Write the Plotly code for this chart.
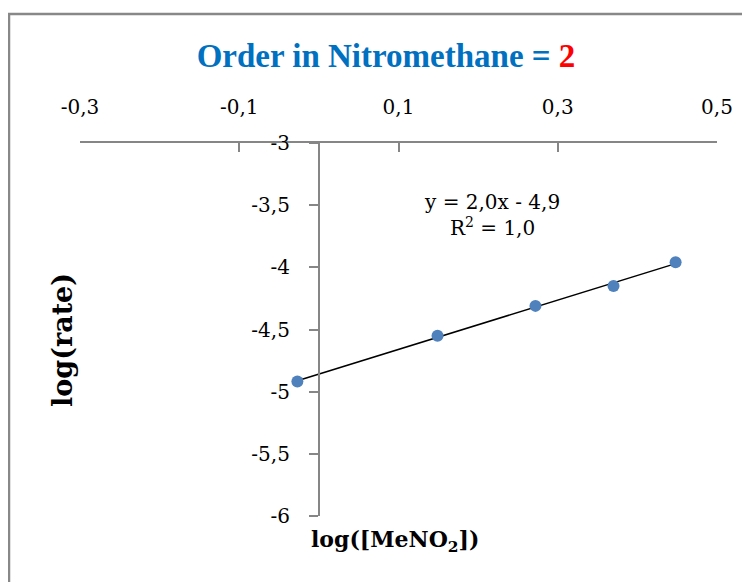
import numpy as np
import plotly.graph_objects as go

# data
log_meno2 = [-0.027, 0.149, 0.272, 0.370, 0.448]
log_rate = [-4.919, -4.551, -4.310, -4.150, -3.959]

x_ticks = [-0.3, -0.1, 0.1, 0.3, 0.5]
x_labels = ["-0,3", "-0,1", "0,1", "0,3", "0,5"]
y_ticks = [-3, -3.5, -4, -4.5, -5, -5.5, -6]
y_labels = ["-3", "-3,5", "-4", "-4,5", "-5", "-5,5", "-6"]

# linear trendline
slope, intercept = np.polyfit(log_meno2, log_rate, 1)
fit_x = [min(log_meno2), max(log_meno2)]
fit_y = [slope * v + intercept for v in fit_x]

serif = "DejaVu Serif"
title_font = "Liberation Serif"
grey = "#868686"

fig = go.Figure()
fig.add_trace(go.Scatter(
    x=fit_x, y=fit_y, mode="lines",
    line=dict(color="black", width=1.5),
    cliponaxis=False,
))
fig.add_trace(go.Scatter(
    x=log_meno2, y=log_rate, mode="markers",
    marker=dict(color="#4F81BD", size=12),
    cliponaxis=False,
))

fig.update_layout(
    width=750, height=582,
    margin=dict(l=72, r=41, t=135, b=74),
    plot_bgcolor="white", paper_bgcolor="white",
    showlegend=False,
    font=dict(family=serif, size=20, color="black"),
    title=dict(
        text="<b><span style='color:#0070C0'>Order in Nitromethane = </span>"
             "<span style='color:#FF0000'>2</span></b>",
        x=378 / 750, xanchor="center", y=1 - 47 / 582, yanchor="middle",
        font=dict(family=title_font, size=33),
    ),
    xaxis=dict(
        range=[-0.3, 0.5], side="top",
        tickvals=x_ticks, ticktext=x_labels,
        ticks="inside", ticklen=9, tickcolor=grey, tickwidth=1.5,
        showline=True, linecolor=grey, linewidth=2,
        showgrid=False, zeroline=False,
        ticklabelstandoff=19,
        anchor="y",
    ),
    yaxis=dict(
        range=[-6, -3],
        tickvals=y_ticks, ticktext=y_labels,
        ticks="outside", ticklen=9, tickcolor=grey, tickwidth=1.5,
        showline=True, linecolor=grey, linewidth=2,
        showgrid=False, zeroline=False,
        anchor="free", position=0.375,
        ticklabelstandoff=15,
    ),
    shapes=[dict(
        type="rect", xref="paper", yref="paper",
        x0=(9 - 80) / 637, x1=1.2, y0=-0.3, y1=(516 - 14) / 373,
        line=dict(color="#888888", width=2.5),
        layer="below",
    )],
    annotations=[
        dict(text="<b>log(rate)</b>", textangle=-90, showarrow=False,
             xref="paper", yref="paper",
             x=(62 - 80) / 637, y=(516 - 340) / 373,
             xanchor="center", yanchor="middle",
             font=dict(family=serif, size=27)),
        dict(text="<b>log([MeNO<sub>2</sub>])</b>", showarrow=False,
             xref="paper", yref="paper",
             x=(309 - 80) / 637, y=(516 - 541) / 373,
             xanchor="left", yanchor="middle",
             font=dict(family=serif, size=22)),
        dict(text="y = 2,0x - 4,9<br>R<sup>2</sup> = 1,0", showarrow=False,
             xref="x", yref="y", x=0.217, y=-3.58,
             xanchor="center", yanchor="middle", align="center",
             font=dict(family=serif, size=20)),
    ],
)

fig.write_html("out.html")
